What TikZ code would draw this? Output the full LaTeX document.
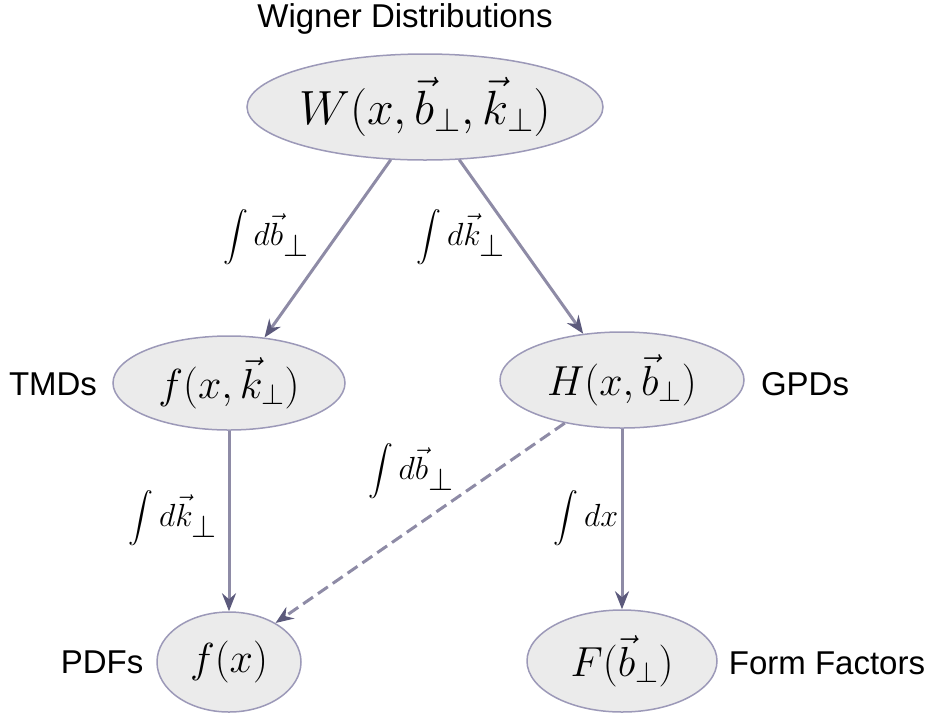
\documentclass[tikz,border=0pt]{standalone}
\usepackage{fix-cm}
\usepackage{exscale}
\usepackage{fontspec}
\newfontfamily\labelfont{Liberation Sans}
\usetikzlibrary{shapes.geometric,arrows.meta}
\definecolor{ellfill}{HTML}{EBEBEB}
\definecolor{elldraw}{HTML}{9C99B8}
\definecolor{linec}{HTML}{8E8BA6}
\definecolor{tipc}{HTML}{5C5A7C}
\newcommand{\perpsub}{_{\textstyle\perp}}
\begin{document}
\begin{tikzpicture}[x=1pt,y=-1pt,
  ell/.style={ellipse, draw=elldraw, line width=1.5pt, fill=ellfill, inner sep=0pt},
  bigmath/.style={font=\fontsize{48}{56}\selectfont},
  midmath/.style={font=\fontsize{42}{50}\selectfont},
  intlab/.style={font=\fontsize{32}{36}\selectfont, inner sep=0pt},
  tag/.style={font=\labelfont\fontsize{33}{40}\selectfont, inner sep=0pt},
  conn/.style={draw=linec, line width=3pt, -{Stealth[length=18pt,width=14pt,inset=6pt,color=tipc]}},
  dconn/.style={conn, dash pattern=on 12pt off 6pt}]
\useasboundingbox (0,0) rectangle (931,713);

\node[ell, minimum width=356pt, minimum height=106pt, bigmath] (W) at (425,107) {$W(x,\vec{b}_{\perp},\vec{k}_{\perp})$};
\node[ell, minimum width=232pt, minimum height=94pt, midmath] (T) at (229,383) {$f(x,\vec{k}_{\perp})$};
\node[ell, minimum width=244pt, minimum height=96pt, midmath] (G) at (622,380) {$H(x,\vec{b}_{\perp})$};
\node[ell, minimum width=144pt, minimum height=100pt, midmath] (P) at (229,662) {$f(x)$};
\node[ell, minimum width=190pt, minimum height=102pt, midmath] (F) at (622,661) {$F(\vec{b}_{\perp})$};

\node[tag] (tW) at (405,19) {Wigner Distributions};
\node[tag] (tT) at (53,384) {TMDs};
\node[tag] (tG) at (805,384) {GPDs};
\node[tag] (tP) at (102,662) {PDFs};
\node[tag] (tF) at (827,663) {Form Factors};

\draw[conn] (W.237) -- (T.52);
\draw[conn] (W.303) -- (G.130);
\draw[conn] (T.south) -- (P.north);
\draw[conn] (G.south) -- (F.north);
\draw[dconn] (G.217) -- (P.40);

\node[intlab] (l1) at (266,237) {$\displaystyle\int d\vec{b}\perpsub$};
\node[intlab] (l2) at (461,237) {$\displaystyle\int d\vec{k}\perpsub$};
\node[intlab] (l3) at (173,518) {$\displaystyle\int d\vec{k}\perpsub$};
\node[intlab] (l4) at (411,471) {$\displaystyle\int d\vec{b}\perpsub$};
\node[intlab] (l5) at (586,518) {$\displaystyle\int dx$};
\end{tikzpicture}
\end{document}
